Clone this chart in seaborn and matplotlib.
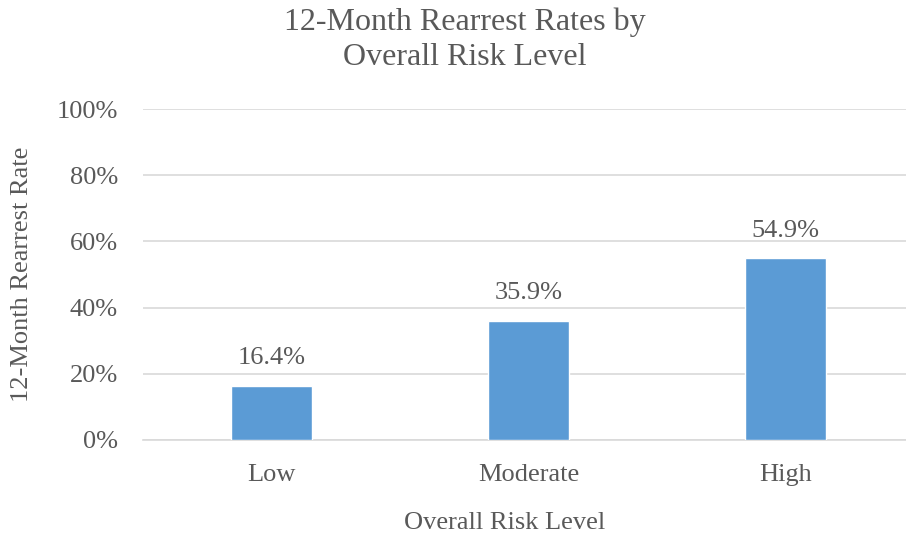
import matplotlib
matplotlib.use("Agg")
import matplotlib.pyplot as plt
import seaborn as sns
import pandas as pd
from matplotlib.ticker import PercentFormatter

categories = ["Low", "Moderate", "High"]
rates = [16.4, 35.9, 54.9]
y_ticks = [0, 20, 40, 60, 80, 100]

sns.set_theme(style="white")
plt.rcParams["font.family"] = ["Liberation Serif", "DejaVu Serif"]

TEXT = "#595959"
GRID = "#D9D9D9"
BAR = "#5B9BD5"
FS = 19

df = pd.DataFrame({"level": categories, "rate": rates})

fig = plt.figure(figsize=(9.06, 5.41), dpi=100)
ax = fig.add_axes([143 / 906, 101 / 541, 771 / 906, 331 / 541])

sns.barplot(data=df, x="level", y="rate", color=BAR, width=0.315,
            saturation=1, ax=ax, zorder=3)

ax.set_ylim(0, 100)
ax.set_xlim(-0.5, 2.5)
ax.set_yticks(y_ticks)
ax.yaxis.set_major_formatter(PercentFormatter(decimals=0))
ax.grid(axis="y", color=GRID, linewidth=1.2, zorder=0)
ax.grid(axis="x", visible=False)
for side in ["top", "right", "left"]:
    ax.spines[side].set_visible(False)
ax.spines["bottom"].set_color(GRID)
ax.spines["bottom"].set_linewidth(1.2)

ax.tick_params(axis="both", length=0, labelsize=FS, colors=TEXT)
ax.tick_params(axis="x", pad=17)
ax.tick_params(axis="y", pad=18)

for patch, val in zip(ax.patches, rates):
    ax.annotate(f"{val:.1f}%", (patch.get_x() + patch.get_width() / 2, val),
                xytext=(0, 20), textcoords="offset points",
                ha="center", va="center", fontsize=FS, color=TEXT)

ax.set_xlabel("Overall Risk Level", fontsize=FS, color=TEXT, va="center")
ax.xaxis.set_label_coords((505 - 143) / 771, (440 - 523) / 331)
ax.set_ylabel("12-Month Rearrest Rate", fontsize=FS, color=TEXT, va="center")
ax.yaxis.set_label_coords((22 - 143) / 771, 0.5)

fig.text(465 / 906, 1 - 40 / 541, "12-Month Rearrest Rates by\nOverall Risk Level",
         ha="center", va="center", fontsize=23, color=TEXT, linespacing=1.28)

fig.savefig("out.png", dpi=100, facecolor="white")
